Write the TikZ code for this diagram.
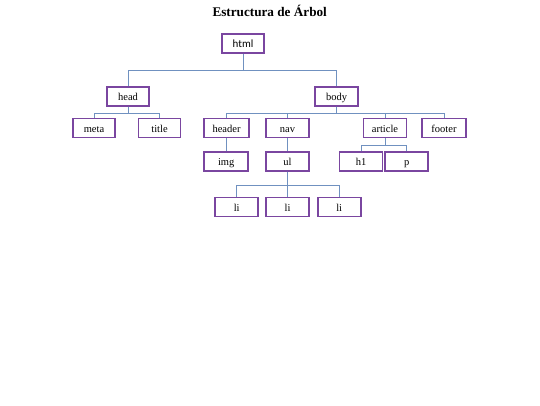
\documentclass[tikz,border=0pt]{standalone}
\usepackage{fontspec}
\setmainfont{Liberation Serif}
\newfontfamily\carl{Carlito}
\definecolor{boxpurple}{RGB}{122,70,160}
\definecolor{connblue}{RGB}{112,145,192}
\begin{document}
\begin{tikzpicture}[x=1pt,y=-1pt,
  tbox/.style={draw=boxpurple,line width=1.6pt,fill=white,minimum width=43pt,minimum height=19pt,inner sep=0pt,text height=8.5pt,text depth=0.5pt,font=\fontsize{10.5}{12}\selectfont},
  conn/.style={draw=connblue,line width=1pt}]
\useasboundingbox (0,0) rectangle (540,405);
\node[font=\fontsize{13.2}{15}\selectfont\bfseries] (ttl) at (269.7,11) {Estructura de Árbol};
\node[tbox,font=\carl\fontsize{11}{13}\selectfont,minimum width=42pt] (html) at (243,43.5) {html};
\node[tbox,minimum width=42pt] (head) at (128,96.3) {head};
\node[tbox] (body) at (336.5,96.3) {body};
\node[tbox,minimum width=42pt] (meta) at (94,128) {meta};
\node[tbox,minimum width=42pt] (title) at (159.5,128) {title};
\node[tbox,minimum width=45pt] (header) at (226.5,128) {header};
\node[tbox] (nav) at (287.5,128) {nav};
\node[tbox] (article) at (385,128) {article};
\node[tbox,minimum width=44pt] (footer) at (444,128) {footer};
\node[tbox,minimum width=44pt] (img) at (226.2,161.3) {img};
\node[tbox] (ul) at (287.5,161.3) {ul};
\node[tbox] (h1) at (361,161.3) {h1};
\node[tbox] (p) at (406.7,161.3) {p};
\node[tbox] (li1) at (236.7,207) {li};
\node[tbox] (li2) at (287.5,207) {li};
\node[tbox] (li3) at (339.2,207) {li};
% connectors
\draw[conn] (html.south) -- ++(0,16.3) -| (head.north);
\draw[conn] (html.south) -- ++(0,16.3) -| (body.north);
\draw[conn] (head.south) -- ++(0,6.5) -| (meta.north);
\draw[conn] (head.south) -- ++(0,6.5) -| (title.north);
\draw[conn] (body.south) -- ++(0,6.5) -| (header.north);
\draw[conn] (body.south) -- ++(0,6.5) -| (nav.north);
\draw[conn] (body.south) -- ++(0,6.5) -| (article.north);
\draw[conn] (body.south) -- ++(0,6.5) -| (footer.north);
\draw[conn] (header.south) -- (header.south |- img.north);
\draw[conn] (nav.south) -- (nav.south |- ul.north);
\draw[conn] (article.south) -- ++(0,7) -| (h1.north);
\draw[conn] (article.south) -- ++(0,7) -| (p.north);
\draw[conn] (ul.south) -- ++(0,14) -| (li1.north);
\draw[conn] (ul.south) -- ++(0,14) -| (li2.north);
\draw[conn] (ul.south) -- ++(0,14) -| (li3.north);
\end{tikzpicture}
\end{document}
